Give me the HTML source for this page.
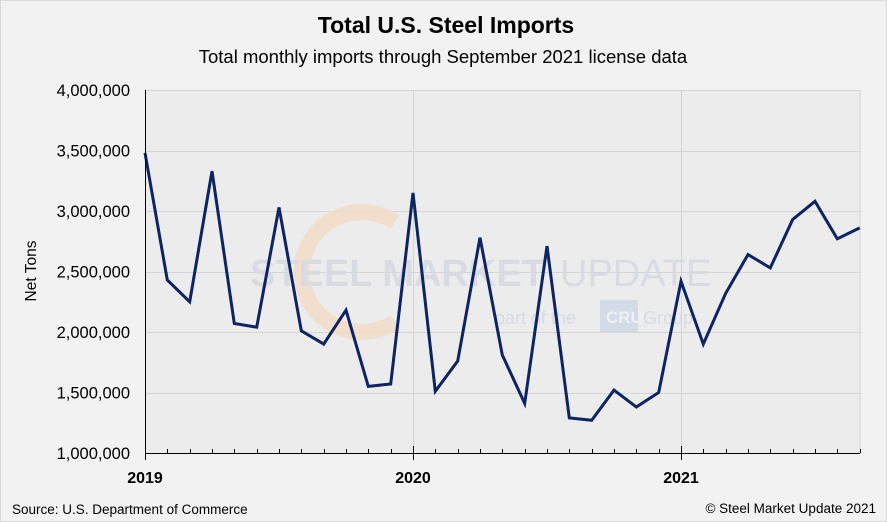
<!DOCTYPE html>
<html><head><meta charset="utf-8"><style>
html,body{margin:0;padding:0;background:#f2f2f2;}
svg{display:block;font-family:"Liberation Sans",Calibri,sans-serif;}
</style></head><body>
<svg id="c" width="887" height="522" viewBox="0 0 887 522" xmlns="http://www.w3.org/2000/svg">
<rect x="0" y="0" width="887" height="522" fill="#f2f2f2"/>
<rect x="0.5" y="0.5" width="886" height="521" fill="none" stroke="#d9d9d9"/>
<rect x="145" y="90" width="715" height="363" fill="#ececec"/>
<g id="grid" stroke="#d4d4d4" stroke-width="1"></g>
<line x1="860" y1="90" x2="860" y2="453" stroke="#d4d4d4"/>
<!-- watermark -->
<path d="M395,222 A60,60 0 1 0 395,322" fill="none" stroke="#f2dcc8" stroke-width="16" opacity="0.85"/>
<text x="250" y="286" font-size="38" font-weight="bold" fill="#d6dbe2" opacity="0.9">STEEL MARKET</text>
<text x="560" y="286" font-size="38" fill="#d6dbe2" opacity="0.9">UPDATE</text>
<text x="495" y="324" font-size="18" fill="#d6dbe2">part of the</text>
<rect x="600" y="300" width="38" height="32" fill="#d2dbe6"/>
<text x="606" y="323" font-size="17" font-weight="bold" fill="#eef2f6">CRU</text>
<text x="643" y="324" font-size="18" fill="#d6dbe2">Group</text>
<polyline id="line" fill="none" stroke="#0d2463" stroke-width="3" stroke-linejoin="miter"/>
<line x1="145.5" y1="90" x2="145.5" y2="453" stroke="#000"/>
<line x1="145" y1="453.5" x2="860" y2="453.5" stroke="#000"/>
<g id="ticks" stroke="#000"></g>
<g id="ylab" font-size="16.5" text-anchor="end" fill="#000"></g>
<text x="446" y="33" font-size="23" font-weight="bold" text-anchor="middle">Total U.S. Steel Imports</text>
<text x="443" y="63" font-size="18.5" text-anchor="middle">Total monthly imports through September 2021 license data</text>
<text transform="translate(36,271) rotate(-90)" font-size="15.5" text-anchor="middle">Net Tons</text>
<text x="145" y="483" font-size="16" font-weight="bold" text-anchor="middle">2019</text>
<text x="413" y="483" font-size="16" font-weight="bold" text-anchor="middle">2020</text>
<text x="681" y="483" font-size="16" font-weight="bold" text-anchor="middle">2021</text>
<text x="12" y="514" font-size="13.5">Source: U.S. Department of Commerce</text>
<text x="876" y="513" font-size="13.5" text-anchor="end">© Steel Market Update 2021</text>
</svg>
<script>
var ns="http://www.w3.org/2000/svg";
function Y(v){return 453-(v-1000000)/3000000*363;}
function X(i){return 145+i*(268/12);}
var g=document.getElementById('grid'),yl=document.getElementById('ylab'),t=document.getElementById('ticks');
for(var v=1500000;v<=4000000;v+=500000){var l=document.createElementNS(ns,'line');var y=Math.round(Y(v))+0.5;l.setAttribute('x1',145);l.setAttribute('x2',860);l.setAttribute('y1',y);l.setAttribute('y2',y);g.appendChild(l);}
[413,681].forEach(function(x){var l=document.createElementNS(ns,'line');l.setAttribute('x1',x+0.5);l.setAttribute('x2',x+0.5);l.setAttribute('y1',90);l.setAttribute('y2',453);g.appendChild(l);});
for(var v=1000000;v<=4000000;v+=500000){var tx=document.createElementNS(ns,'text');tx.setAttribute('x',130);tx.setAttribute('y',Y(v)+6);tx.textContent=v.toLocaleString('en-US');yl.appendChild(tx);}
for(var i=0;i<=32;i++){var x=Math.round(X(i))+0.5;var l=document.createElementNS(ns,'line');l.setAttribute('x1',x);l.setAttribute('x2',x);var big=(i%12==0);l.setAttribute('y1',big?446:449);l.setAttribute('y2',big?460:453);t.appendChild(l);}
var d=[3480000,2430000,2250000,3330000,2070000,2040000,3030000,2010000,1900000,2180000,1550000,1570000,
3150000,1510000,1760000,2780000,1810000,1410000,2710000,1290000,1270000,1520000,1380000,1500000,
2420000,1900000,2320000,2640000,2530000,2930000,3080000,2770000,2860000];
document.getElementById('line').setAttribute('points',d.map(function(v,i){return X(i).toFixed(1)+','+Y(v).toFixed(1);}).join(' '));
</script>
</body></html>
